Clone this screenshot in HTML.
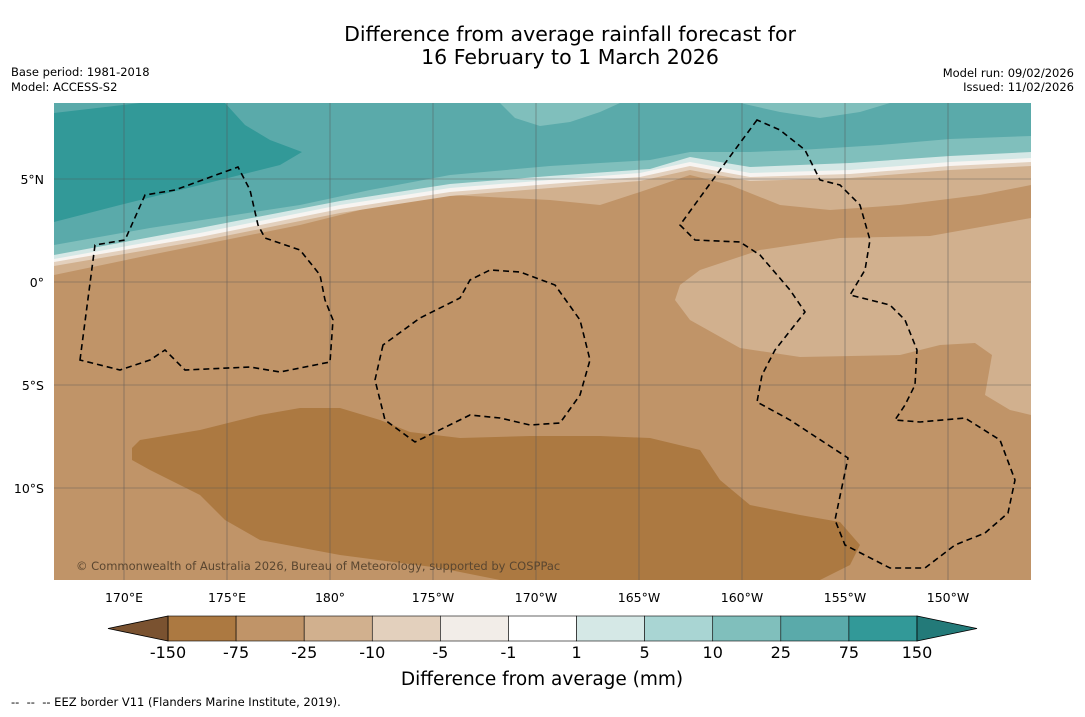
<!DOCTYPE html>
<html><head><meta charset="utf-8">
<style>
body{margin:0;background:#fff;width:1085px;height:713px;overflow:hidden;font-family:"DejaVu Sans","Liberation Sans",sans-serif;}
svg text{font-family:"DejaVu Sans","Liberation Sans",sans-serif;}
</style></head>
<body>
<svg id="chart" width="1085" height="713" xmlns="http://www.w3.org/2000/svg">
<text x="570" y="41" font-size="20.5" text-anchor="middle">Difference from average rainfall forecast for</text>
<text x="570" y="64" font-size="20.5" text-anchor="middle">16 February to 1 March 2026</text>
<text x="11" y="76" font-size="11.5">Base period: 1981-2018</text>
<text x="11" y="91" font-size="11.5">Model: ACCESS-S2</text>
<text x="1074" y="77" font-size="11.5" text-anchor="end">Model run: 09/02/2026</text>
<text x="1074" y="91" font-size="11.5" text-anchor="end">Issued: 11/02/2026</text>
<defs><clipPath id="mapclip"><rect x="54" y="103" width="977" height="477"/></clipPath></defs>
<g clip-path="url(#mapclip)">
<rect x="54" y="103" width="977" height="477" fill="#c09468"/>
<path fill="#d1b08e" d="M54,103 L1031,103 L1031,185 L980,195 L900,205 L830,210 L780,205 L730,185 L690,175 L640,192 L600,205 L550,200 L450,195 L380,205 L300,225 L150,255 L54,275Z"/>
<path fill="#e3d0bd" d="M54,103 L1031,103 L1031,166 L950,170 L850,178 L750,181 L690,170 L640,181 L550,188 L450,196 L340,213 L200,241 L54,266Z"/>
<path fill="#f7f4f1" d="M54,103 L1031,103 L1031,162 L950,166 L850,174 L750,177 L690,166 L640,177 L550,184 L450,192 L340,209 L200,237 L54,262Z"/>
<path fill="#d5e8e6" d="M54,103 L1031,103 L1031,158 L950,162 L850,170 L750,173 L690,162 L640,173 L550,180 L450,188 L340,205 L200,233 L54,259Z"/>
<path fill="#80bfbc" d="M54,103 L1031,103 L1031,152 L950,156 L850,163 L750,167 L690,157 L650,169 L550,176 L450,184 L340,201 L200,228 L54,255Z"/>
<path fill="#5aaaaa" d="M54,103 L1031,103 L1031,136 L950,139 L880,145 L800,150 L750,152 L690,152 L650,160 L550,166 L450,175 L370,190 L300,205 L150,228 L54,245Z"/>
<path fill="#80bfbc" d="M500,103 L620,103 L600,112 L570,122 L540,126 L515,118Z"/>
<path fill="#80bfbc" d="M740,103 L890,103 L860,112 L820,118 L780,112Z"/>
<path fill="#329998" d="M54,113 L140,103 L225,103 L245,125 L270,140 L302,152 L280,165 L240,175 L180,190 L120,205 L54,222Z"/>
<path fill="#d1b08e" d="M680,285 L700,270 L760,250 L840,238 L930,236 L1031,218 L1031,415 L1010,410 L985,395 L992,355 L975,343 L940,345 L900,355 L800,357 L740,348 L690,320 L675,300Z"/>
<path fill="#ac7941" d="M132,448 L140,440 L200,430 L260,415 L300,408 L340,408 L380,420 L410,432 L460,438 L530,436 L600,436 L650,438 L700,450 L720,480 L750,505 L800,515 L840,522 L860,545 L850,565 L820,580 L500,580 L440,568 L340,555 L260,540 L225,520 L200,495 L150,470 L132,460Z"/>
<g id="grid" stroke="#555" stroke-width="0.6" opacity="0.8"></g>
<g fill="none" stroke="#000" stroke-width="1.6" stroke-dasharray="6,4">
<path d="M80,360 L95,245 L125,240 L145,195 L175,190 L238,167 L250,190 L258,225 L265,238 L300,250 L320,275 L325,300 L333,320 L330,362 L280,372 L250,367 L185,370 L165,350 L150,360 L120,370 Z"/>
<path d="M383,345 L375,380 L385,420 L415,442 L470,415 L500,418 L530,425 L560,423 L580,395 L590,360 L580,320 L555,285 L520,272 L490,270 L470,280 L460,298 L420,318 Z"/>
<path d="M757,120 L720,170 L680,225 L695,240 L740,242 L760,255 L790,290 L805,312 L775,350 L762,375 L757,402 L790,420 L848,458 L835,520 L845,545 L890,568 L925,568 L955,545 L985,533 L1008,513 L1015,480 L1000,440 L965,418 L920,422 L895,420 L905,405 L915,385 L917,350 L905,320 L890,305 L850,295 L865,270 L870,240 L860,205 L840,185 L820,180 L805,150 L780,130 Z"/>
</g>
<text x="76" y="570" font-size="11.5" fill="#5a4630">© Commonwealth of Australia 2026, Bureau of Meteorology, supported by COSPPac</text>
</g>
<g id="ticks"></g>
<g id="cbar"></g>
<text x="542" y="685" font-size="18.5" text-anchor="middle">Difference from average (mm)</text>
<text x="11" y="706" font-size="11.5">-- &#160;-- &#160;-- EEZ border V11 (Flanders Marine Institute, 2019).</text>
</svg>
<script>
const lonLabels=["170°E","175°E","180°","175°W","170°W","165°W","160°W","155°W","150°W"];
const lonValues=[170,175,180,185,190,195,200,205,210];
const latLabels=["5°N","0°","5°S","10°S"];
const latValues=[5,0,-5,-10];
const levelLabels=["-150","-75","-25","-10","-5","-1","1","5","10","25","75","150"];
const levelColors=["#ac7941","#c09468","#d1b08e","#e3d0bd","#f2ede8","#ffffff","#d5e8e6","#a9d5d3","#80bfbc","#5aaaaa","#329998"];
const ns="http://www.w3.org/2000/svg";
const xLon=l=>124+(l-170)*20.6;
const yLat=a=>282-a*20.6;
const grid=document.getElementById('grid'),ticks=document.getElementById('ticks');
function mk(t,a,p){const e=document.createElementNS(ns,t);for(const k in a)e.setAttribute(k,a[k]);p.appendChild(e);return e;}
lonValues.forEach((v,i)=>{
 const l=mk('line',{x1:xLon(v),x2:xLon(v),y1:103,y2:580},grid);
 
 
 const t=mk('text',{x:xLon(v),y:602,'font-size':12.5,'text-anchor':'middle'},ticks);
 t.textContent=lonLabels[i];
 
 
});
latValues.forEach((v,i)=>{
 const l=mk('line',{x1:54,x2:1031,y1:yLat(v),y2:yLat(v)},grid);
 
 
 const t=mk('text',{x:44,y:yLat(v)+5,'font-size':12.5,'text-anchor':'end'},ticks);
 t.textContent=latLabels[i];
 
 
});
const cb=document.getElementById('cbar');
const x0=168,x1=917,y0=616,h=25,w=(x1-x0)/levelColors.length;
levelColors.forEach((c,i)=>{
 const r=mk('rect',{x:x0+i*w,y:y0,width:w,height:h,fill:c,stroke:'#000','stroke-width':0.6},cb);
 
 
});
const tl=mk('polygon',{points:`${x0},${y0} ${x0},${y0+h} 108,${y0+h/2}`,fill:'#7a5230',stroke:'#000','stroke-width':0.8},cb);


const tr=mk('polygon',{points:`${x1},${y0} ${x1},${y0+h} 977,${y0+h/2}`,fill:'#237a79',stroke:'#000','stroke-width':0.8},cb);


levelLabels.forEach((s,i)=>{
 const t=mk('text',{x:x0+i*w,y:658,'font-size':16,'text-anchor':'middle'},cb);
 t.textContent=s;
 
 
});
</script>
</body></html>
